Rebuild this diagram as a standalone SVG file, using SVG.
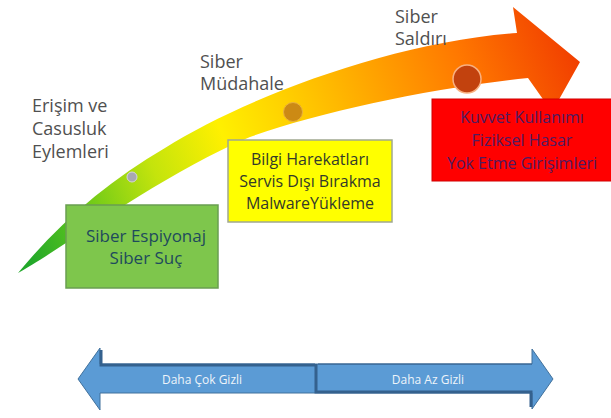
<svg xmlns="http://www.w3.org/2000/svg" width="611" height="418" viewBox="0 0 611 418">
  <defs>
    <linearGradient id="heat" gradientUnits="userSpaceOnUse" x1="30" y1="260" x2="580" y2="40">
      <stop offset="0" stop-color="#22a82a"/>
      <stop offset="0.1" stop-color="#5cc41c"/>
      <stop offset="0.25" stop-color="#c4e40c"/>
      <stop offset="0.38" stop-color="#fff000"/>
      <stop offset="0.5" stop-color="#ffd000"/>
      <stop offset="0.65" stop-color="#ffa400"/>
      <stop offset="0.8" stop-color="#ff7800"/>
      <stop offset="1" stop-color="#f03a00"/>
    </linearGradient>
    <style>
      .label { font-family: "Open Sans", "Liberation Sans", sans-serif; font-size: 18px; fill: #505050; }
      .box-text { font-family: "Open Sans", "Liberation Sans", sans-serif; text-anchor: middle; }
      .scale-text { font-family: "Open Sans", "Liberation Sans", sans-serif; font-size: 12px; fill: #eef4fa; text-anchor: middle; }
      .bevel { stroke: #34618e; fill: none; }
    </style>
  </defs>

  <rect width="611" height="418" fill="#ffffff"/>

  <!-- escalation arrow, curving from green tail to red head -->
  <g id="escalation-arrow">
    <path fill="url(#heat)" d="M18,273 C60,222 110,180 165,148 C240,100 390,42 517,33 L513,7 L580,62 L552,112 L528,78 C430,88 320,112 250,137 C160,175 60,250 18,273 Z"/>
  </g>

  <!-- stage labels -->
  <g id="label-erisim">
    <text class="label" x="32" y="112">Erişim ve</text>
    <text class="label" x="32" y="135">Casusluk</text>
    <text class="label" x="32" y="158">Eylemleri</text>
  </g>
  <g id="label-mudahale">
    <text class="label" x="200" y="68">Siber</text>
    <text class="label" x="200" y="90">Müdahale</text>
  </g>
  <g id="label-saldiri">
    <text class="label" x="395" y="23">Siber</text>
    <text class="label" x="395" y="45">Saldırı</text>
  </g>

  <!-- stage markers on the arrow -->
  <g id="marker-erisim">
    <circle cx="132" cy="177" r="5" fill="#a8a8b0" stroke="#d4d4da" stroke-width="1"/>
  </g>
  <g id="marker-mudahale">
    <circle cx="293" cy="112" r="9.5" fill="#cc8a14" stroke="#e8b040" stroke-width="1"/>
  </g>
  <g id="marker-saldiri">
    <circle cx="467" cy="79" r="14" fill="#c2420e" stroke="#f8b080" stroke-width="1.5"/>
  </g>

  <!-- activity boxes -->
  <g id="box-espiyonaj">
    <rect x="66" y="205" width="152" height="83" fill="#7ec64c" stroke="#6a9e50" stroke-width="1.5"/>
    <text class="box-text" x="146" y="242" font-size="17" fill="#1e4a5c">Siber Espiyonaj</text>
    <text class="box-text" x="146" y="264" font-size="17" fill="#1e4a5c">Siber Suç</text>
  </g>
  <g id="box-harekat">
    <rect x="228" y="140" width="164" height="82" fill="#ffff00" stroke="#a0a890" stroke-width="1.5"/>
    <text class="box-text" x="310" y="165" font-size="16" fill="#333a2a">Bilgi Harekatları</text>
    <text class="box-text" x="310" y="187" font-size="16" fill="#333a2a">Servis Dışı Bırakma</text>
    <text class="box-text" x="310" y="209" font-size="16" fill="#333a2a">MalwareYükleme</text>
  </g>
  <g id="box-kuvvet">
    <rect x="432" y="99" width="180" height="82" fill="#ff0000" stroke="#d00000" stroke-width="1"/>
    <text class="box-text" x="522" y="123" font-size="16" fill="#4e1c62">Kuvvet Kullanımı</text>
    <text class="box-text" x="522" y="146" font-size="16" fill="#4e1c62">Fiziksel Hasar</text>
    <text class="box-text" x="522" y="169" font-size="16" fill="#4e1c62">Yok Etme Girişimleri</text>
  </g>

  <!-- secrecy scale: double-headed arrow -->
  <g id="secrecy-scale">
    <path fill="#5b9bd5" stroke="#41719c" stroke-width="1" d="M78,379 L100,348 L100,364 L532,364 L532,349 L553,379 L532,409 L532,393 L100,393 L100,410 Z"/>
    <path class="bevel" stroke-width="3" d="M101,350 L101,365 L315,365"/>
    <path class="bevel" stroke-width="1" d="M318,364 L532,364"/>
    <path class="bevel" stroke-width="3" d="M316,364 L316,392 L531,392 L531,407"/>
    <text class="scale-text" x="202" y="384">Daha Çok Gizli</text>
    <text class="scale-text" x="428" y="384">Daha Az Gizli</text>
  </g>
</svg>
